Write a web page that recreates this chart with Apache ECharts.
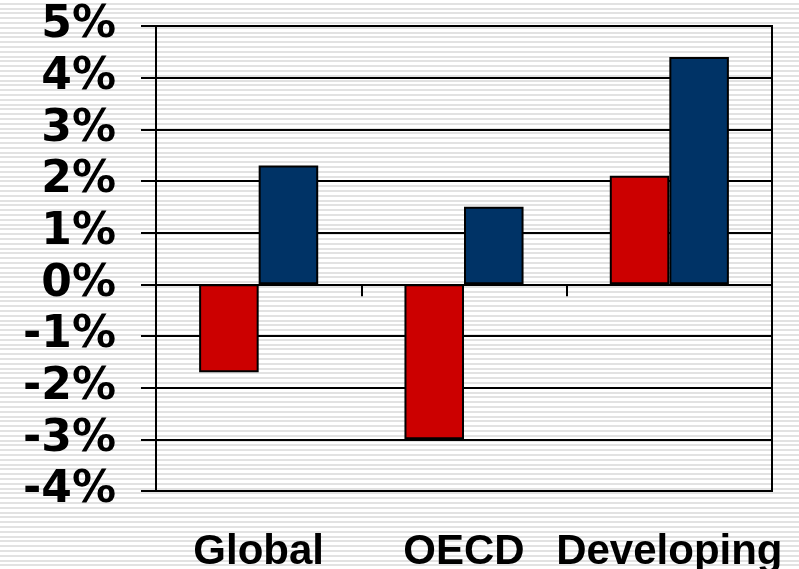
<!DOCTYPE html>
<html>
<head>
<meta charset="utf-8">
<script src="https://cdn.jsdelivr.net/npm/echarts@6/dist/echarts.min.js"></script>
<style>
  html, body { margin: 0; padding: 0; }
  body {
    width: 799px; height: 569px; overflow: hidden;
    background: repeating-linear-gradient(to bottom, #ffffff 0px, #ffffff 2.8px, #e2e2e2 2.8px, #e2e2e2 4.8px);
  }
  #chart { width: 799px; height: 569px; }
</style>
</head>
<body>
<div id="chart"></div>
<script>
const categories = ['Global', 'OECD', 'Developing'];
const seriesRed = [-1.7, -3.0, 2.1];
const seriesBlue = [2.3, 1.5, 4.4];
const yMin = -4, yMax = 5, yStep = 1;

const chart = echarts.init(document.getElementById('chart'), null, { renderer: 'canvas' });
chart.setOption({
  backgroundColor: 'transparent',
  animation: false,
  grid: {
    left: 156, right: 27, top: 26, bottom: 78,
    containLabel: false,
    outerBoundsMode: 'none',
    show: true, borderColor: '#000', borderWidth: 2, backgroundColor: 'transparent'
  },
  xAxis: {
    type: 'category',
    data: categories,
    axisLine: { onZero: true, lineStyle: { color: '#000', width: 2 } },
    axisTick: { show: true, length: 12, lineStyle: { color: '#000', width: 2 } },
    axisLabel: {
      interval: 0,
      hideOverlap: false,
      margin: 40,
      color: '#000',
      fontFamily: 'Liberation Sans, Arial, sans-serif',
      fontWeight: 'bold',
      fontSize: 42
    },
    splitLine: { show: false }
  },
  yAxis: {
    type: 'value',
    min: yMin, max: yMax, interval: yStep,
    axisLine: { show: true, lineStyle: { color: '#000', width: 2 } },
    axisTick: { show: true, length: 15, lineStyle: { color: '#000', width: 2 } },
    axisLabel: {
      margin: 40,
      padding: [4, 0, 0, 0],
      formatter: '{value}%',
      color: '#000',
      fontFamily: 'DejaVu Sans, sans-serif',
      fontWeight: 'bold',
      fontSize: 44
    },
    splitLine: { show: true, lineStyle: { color: '#000', width: 2 } }
  },
  series: [
    {
      type: 'bar', data: seriesRed, barGap: '0%', barCategoryGap: '42%',
      itemStyle: { color: '#CC0000', borderColor: '#000', borderWidth: 2 }
    },
    {
      type: 'bar', data: seriesBlue, barGap: '0%', barCategoryGap: '42%',
      itemStyle: { color: '#003366', borderColor: '#000', borderWidth: 2 }
    }
  ]
});
</script>
</body>
</html>
